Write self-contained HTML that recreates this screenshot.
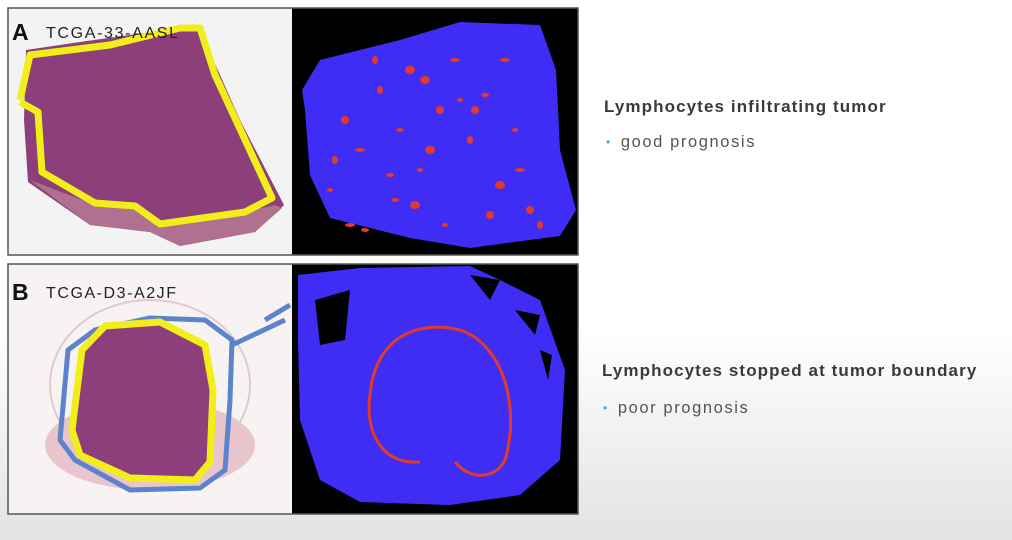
<!DOCTYPE html>
<html><head><meta charset="utf-8"><style>
html,body{margin:0;padding:0;width:1012px;height:540px;overflow:hidden}
body{background:linear-gradient(to bottom,#ffffff 0px,#ffffff 330px,#ececec 470px,#e3e3e3 540px);font-family:"Liberation Sans",sans-serif;position:relative}
.t{position:absolute;color:#3a3a3a;font-size:17px;white-space:nowrap;letter-spacing:1.1px}
.h{font-weight:bold}
.b{color:#555;font-size:16.5px;letter-spacing:1.6px}
.b:before{content:"•";color:#4a9fd4;margin-right:9px;font-size:12px;position:relative;top:-1px}
</style></head><body>
<svg width="600" height="540" style="position:absolute;left:0;top:0">
 <g>
  <rect x="8" y="8" width="284" height="247" fill="#f3f3f3"/>
  <path d="M26,50 L80,42 L180,28 L200,30 L240,120 L284,205 L255,232 L180,246 L150,232 L90,225 L28,182 L24,120 Z" fill="#8c3f7a"/>
  <path d="M30,180 L95,205 L135,208 L160,224 L245,212 L275,205 L282,208 L255,232 L180,246 L150,232 L90,225 Z" fill="#b0708f"/>
  <path d="M20,100 L30,55 L110,45 L180,28 L200,28 L215,75 L272,198 L245,212 L160,224 L135,206 L95,203 L42,172 L38,112 L20,102" fill="none" stroke="#f2ee1a" stroke-width="7" stroke-linejoin="round"/>
  <text x="12" y="40" font-size="23" font-weight="bold" fill="#111" font-family="Liberation Sans">A</text>
  <text x="46" y="38" font-size="16" fill="#222" font-family="Liberation Sans" textLength="132">TCGA-33-AASL</text>
  <rect x="292" y="8" width="286" height="247" fill="#000"/>
  <path d="M302,90 L320,60 L400,40 L460,22 L540,25 L556,70 L560,150 L576,210 L560,236 L470,248 L410,238 L330,218 L310,175 L305,110 Z" fill="#3f2df5"/>
  <g id="dotsA" fill="#e03a2a"></g>
  <rect x="8" y="8" width="570" height="247" fill="none" stroke="#555" stroke-width="1.5"/>
 </g>
 <g>
  <rect x="8" y="264" width="284" height="250" fill="#f7f3f3"/>
  <ellipse cx="150" cy="445" rx="105" ry="45" fill="#e8c5cc"/>
  <ellipse cx="150" cy="385" rx="100" ry="85" fill="none" stroke="#e3c9cc" stroke-width="2"/>
  <path d="M60,440 L68,350 L95,330 L150,318 L205,320 L232,340 L230,400 L225,470 L200,488 L130,490 L75,460 Z" fill="none" stroke="#5d83cc" stroke-width="5" stroke-linejoin="round"/>
  <path d="M232,345 L285,320 M265,320 L290,305" stroke="#5d83cc" stroke-width="5" fill="none"/>
  <path d="M72,430 L82,350 L105,326 L160,322 L205,345 L213,390 L210,462 L195,480 L130,478 L80,455 Z" fill="#8c3f7a" stroke="#f2ee1a" stroke-width="7" stroke-linejoin="round"/>
  <text x="12" y="300" font-size="23" font-weight="bold" fill="#111" font-family="Liberation Sans">B</text>
  <text x="46" y="298" font-size="16" fill="#222" font-family="Liberation Sans" textLength="130">TCGA-D3-A2JF</text>
  <rect x="292" y="264" width="286" height="250" fill="#000"/>
  <path d="M298,275 L360,268 L470,266 L500,280 L540,300 L565,370 L560,460 L520,495 L450,505 L360,502 L320,480 L300,420 L298,340 Z" fill="#3f2df5"/>
  <path d="M315,300 L350,290 L345,340 L320,345 Z M470,275 L500,280 L490,300 Z M515,310 L540,315 L535,335 Z M540,350 L552,355 L548,380 Z" fill="#000"/>
  <path d="M370,395 C375,335 420,320 460,330 C505,345 520,410 505,460 C495,480 470,480 455,462 M370,395 C365,430 380,465 420,462" fill="none" stroke="#e03a2a" stroke-width="3"/>
  <rect x="8" y="264" width="570" height="250" fill="none" stroke="#555" stroke-width="1.5"/>
 </g>
</svg>
<div class="t h" style="left:604px;top:97px">Lymphocytes infiltrating tumor</div>
<div class="t b" style="left:606px;top:133px">good prognosis</div>
<div class="t h" style="left:602px;top:361px">Lymphocytes stopped at tumor boundary</div>
<div class="t b" style="left:603px;top:399px">poor prognosis</div>
<script>
const dotXs=[330,345,360,380,395,410,420,440,455,470,485,500,515,530,350,375,400,430,460,490,520,335,365,415,445,475,505,540,390,425];
const dotYs=[190,120,150,90,200,70,170,110,60,140,95,185,130,210,225,60,130,150,100,215,170,160,230,205,225,110,60,225,175,80];
const g=document.getElementById('dotsA');
dotXs.forEach((x,i)=>{
 const e=document.createElementNS('http://www.w3.org/2000/svg','ellipse');
 
 
 e.setAttribute('cx',x);e.setAttribute('cy',dotYs[i]);e.setAttribute('rx',3+(i%3));e.setAttribute('ry',2+(i%2)*2);
 g.appendChild(e);
});
</script>
</body></html>
